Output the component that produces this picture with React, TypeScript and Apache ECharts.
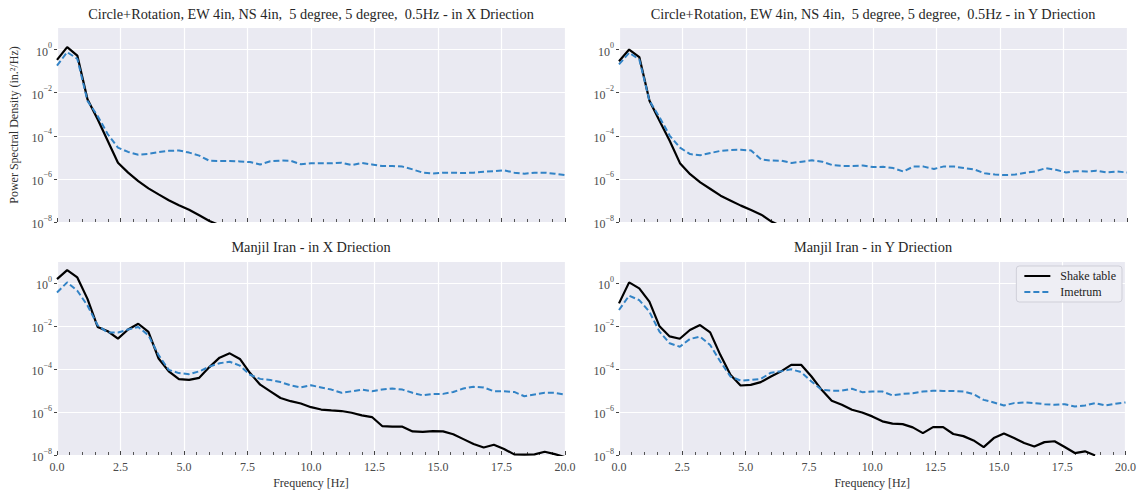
import { useEffect, useRef } from "react";
import * as echarts from "echarts";

// Frequency grid (Hz)
const freqHz = [
  0, 0.4, 0.8, 1.2, 1.6, 2.0, 2.4, 2.8, 3.2, 3.6, 4.0, 4.4, 4.8, 5.2, 5.6, 6.0, 6.4,
  6.8, 7.2, 7.6, 8.0, 8.4, 8.8, 9.2, 9.6, 10.0, 10.4, 10.8, 11.2, 11.6, 12.0, 12.4,
  12.8, 13.2, 13.6, 14.0, 14.4, 14.8, 15.2, 15.6, 16.0, 16.4, 16.8, 17.2, 17.6, 18.0,
  18.4, 18.8, 19.2, 19.6, 20.0,
];

// log10 of Power Spectral Density (in.^2/Hz)
const circleXShake = [
  -0.48, 0.11, -0.28, -2.3, -3.23, -4.24, -5.25, -5.71, -6.1, -6.44, -6.72, -6.99, -7.22, -7.43, -7.69, -7.95, -8.15,
  null, null, null, null, null, null, null, null, null, null, null, null, null, null, null, null, null, null,
  null, null, null, null, null, null, null, null, null, null, null, null, null, null, null, null,
];
const circleXImetrum = [
  -0.75, -0.12, -0.43, -2.38, -3.08, -3.93, -4.55, -4.75, -4.88, -4.84, -4.76, -4.7, -4.68, -4.78, -4.92, -5.16, -5.17,
  -5.17, -5.19, -5.22, -5.33, -5.18, -5.15, -5.16, -5.32, -5.28, -5.27, -5.28, -5.25, -5.36, -5.26, -5.33,
  -5.4, -5.4, -5.43, -5.56, -5.71, -5.75, -5.71, -5.71, -5.73, -5.71, -5.67, -5.64, -5.6, -5.71,
  -5.76, -5.71, -5.71, -5.76, -5.82,
];
const circleYShake = [
  -0.54, 0.0, -0.35, -2.38, -3.31, -4.24, -5.27, -5.78, -6.16, -6.47, -6.78, -7.01, -7.24, -7.44, -7.66, -7.98, -8.2,
  null, null, null, null, null, null, null, null, null, null, null, null, null, null, null, null, null, null,
  null, null, null, null, null, null, null, null, null, null, null, null, null, null, null, null,
];
const circleYImetrum = [
  -0.69, -0.15, -0.46, -2.38, -3.15, -4.0, -4.55, -4.85, -4.9, -4.8, -4.7, -4.66, -4.65, -4.68, -5.1, -5.15, -5.16,
  -5.26, -5.2, -5.14, -5.2, -5.36, -5.4, -5.4, -5.38, -5.45, -5.44, -5.5, -5.66, -5.42, -5.43, -5.54,
  -5.42, -5.43, -5.5, -5.57, -5.74, -5.8, -5.82, -5.8, -5.72, -5.65, -5.5, -5.58, -5.7, -5.64,
  -5.66, -5.62, -5.7, -5.66, -5.7,
];
const manjilXShake = [
  0.2, 0.62, 0.28, -0.72, -2.03, -2.23, -2.57, -2.15, -1.88, -2.26, -3.5, -4.1, -4.46, -4.5, -4.4, -3.9, -3.46,
  -3.26, -3.52, -4.18, -4.72, -5.03, -5.34, -5.49, -5.6, -5.77, -5.88, -5.92, -5.95, -6.03, -6.15, -6.23,
  -6.65, -6.68, -6.68, -6.9, -6.92, -6.89, -6.9, -7.03, -7.26, -7.49, -7.65, -7.52, -7.72, -7.97,
  -7.98, -7.97, -7.85, -7.96, -8.1,
];
const manjilXImetrum = [
  -0.42, 0.05, -0.34, -1.03, -1.95, -2.29, -2.29, -2.15, -2.03, -2.42, -3.34, -4.03, -4.18, -4.23, -4.1, -3.88, -3.72,
  -3.65, -3.83, -4.26, -4.45, -4.5, -4.6, -4.75, -4.85, -4.75, -4.85, -4.95, -5.1, -5.03, -4.95, -5.03,
  -4.95, -4.9, -4.95, -5.1, -5.22, -5.15, -5.15, -5.06, -4.9, -4.82, -4.85, -5.03, -5.03, -5.06,
  -5.26, -5.18, -5.1, -5.1, -5.18,
];
const manjilYShake = [
  -0.93, 0.05, -0.23, -0.85, -2.0, -2.47, -2.58, -2.17, -1.94, -2.28, -3.33, -4.26, -4.76, -4.73, -4.6, -4.34, -4.1,
  -3.8, -3.8, -4.34, -4.96, -5.47, -5.66, -5.89, -6.02, -6.2, -6.43, -6.54, -6.56, -6.71, -6.98, -6.7,
  -6.7, -7.02, -7.12, -7.32, -7.63, -7.21, -7.0, -7.21, -7.44, -7.6, -7.4, -7.36, -7.63, -7.91,
  -7.83, -8.02, null, null, null,
];
const manjilYImetrum = [
  -1.24, -0.57, -0.78, -1.32, -2.25, -2.79, -2.95, -2.59, -2.48, -2.87, -3.64, -4.34, -4.53, -4.5, -4.45, -4.16, -4.1,
  -4.0, -4.14, -4.57, -4.96, -5.0, -5.0, -4.91, -5.07, -5.04, -5.04, -5.22, -5.15, -5.12, -5.04, -5.0,
  -5.01, -5.01, -5.04, -5.16, -5.43, -5.55, -5.69, -5.58, -5.55, -5.58, -5.63, -5.66, -5.63, -5.74,
  -5.69, -5.58, -5.69, -5.61, -5.55,
];

const panelTitles = [
  "Circle+Rotation, EW 4in, NS 4in,  5 degree, 5 degree,  0.5Hz - in X Driection",
  "Circle+Rotation, EW 4in, NS 4in,  5 degree, 5 degree,  0.5Hz - in Y Driection",
  "Manjil Iran - in X Driection",
  "Manjil Iran - in Y Driection",
];
const panelShake = [circleXShake, circleYShake, manjilXShake, manjilYShake];
const panelImetrum = [circleXImetrum, circleYImetrum, manjilXImetrum, manjilYImetrum];
const yTickExponents = [-8, -6, -4, -2, 0];
const seriesNames = ["Shake table", "Imetrum"];

const SERIF = "'Liberation Serif', 'DejaVu Serif', 'Times New Roman', serif";
const BLUE = "#3283c6";
const LABEL = "#4a4a4a";

const layout = [
  { left: 57, top: 28, width: 508, height: 194 },
  { left: 619, top: 28, width: 508, height: 194 },
  { left: 57, top: 262, width: 508, height: 193 },
  { left: 619, top: 262, width: 508, height: 193 },
];

function buildOption() {
  const grids = layout.map((g) => ({
    ...g,
    show: true,
    backgroundColor: "#EAEAF2",
    borderWidth: 0,
    containLabel: false,
  }));
  const xAxes = layout.map((_, i) => ({
    type: "value",
    gridIndex: i,
    min: 0,
    max: 20,
    interval: 2.5,
    axisLine: { show: false, onZero: false },
    axisTick: { show: true, inside: true, length: 4, lineStyle: { color: "#444", width: 1 } },
    minorTick: { show: true, splitNumber: 5, length: 3, lineStyle: { color: "#555", width: 1 } },
    splitLine: { show: true, lineStyle: { color: "#ffffff", width: 1.2 } },
    axisLabel: {
      show: i >= 2,
      formatter: (v: number) => v.toFixed(1),
      color: LABEL,
      fontSize: 12,
      fontFamily: SERIF,
      margin: 6,
    },
    name: i >= 2 ? "Frequency [Hz]" : "",
    nameLocation: "middle",
    nameGap: 22,
    nameTextStyle: { color: "#333", fontSize: 12, fontFamily: SERIF },
  }));
  const yAxes = layout.map((_, i) => ({
    type: "value",
    gridIndex: i,
    min: -8,
    max: 1,
    interval: 2,
    axisLine: { show: false, onZero: false },
    axisTick: { show: true, length: 3, customValues: yTickExponents, lineStyle: { color: "#444" } },
    splitLine: { show: true, lineStyle: { color: "#ffffff", width: 1.2 } },
    axisLabel: {
      customValues: yTickExponents,
      margin: 5,
      color: LABEL,
      formatter: (v: number) => `{b|10}{e|${v < 0 ? "\u2212" : ""}${Math.abs(v)}}`,
      rich: {
        b: { fontSize: 12, fontFamily: SERIF, color: LABEL, lineHeight: 16, verticalAlign: "bottom" },
        e: { fontSize: 8, fontFamily: SERIF, color: LABEL, lineHeight: 16, verticalAlign: "top" },
      },
    },
    name: i === 0 ? "Power Spectral Density (in.\u00b2/Hz)" : "",
    nameLocation: "middle",
    nameGap: 37,
    nameTextStyle: { color: "#333", fontSize: 12, fontFamily: SERIF },
  }));
  const series: any[] = [];
  layout.forEach((_, i) => {
    series.push({
      name: seriesNames[0],
      type: "line",
      xAxisIndex: i,
      yAxisIndex: i,
      symbol: "none",
      showSymbol: false,
      clip: true,
      lineStyle: { color: "#000000", width: 2.2 },
      itemStyle: { color: "#000000" },
      data: freqHz.map((f, j) => [f, panelShake[i][j]]),
    });
    series.push({
      name: seriesNames[1],
      type: "line",
      xAxisIndex: i,
      yAxisIndex: i,
      symbol: "none",
      showSymbol: false,
      clip: true,
      lineStyle: { color: BLUE, width: 2, type: [6, 3] },
      itemStyle: { color: BLUE },
      data: freqHz.map((f, j) => [f, panelImetrum[i][j]]),
    });
  });
  const titles = layout.map((g, i) => ({
    text: panelTitles[i],
    left: g.left + g.width / 2,
    top: i < 2 ? 7 : 240,
    textAlign: "center",
    padding: 0,
    textStyle: { fontSize: 14.3, fontWeight: "normal", color: "#262626", fontFamily: SERIF },
  }));
  return {
    animation: false,
    backgroundColor: "#ffffff",
    title: titles,
    grid: grids,
    xAxis: xAxes,
    yAxis: yAxes,
    legend: {
      data: seriesNames,
      orient: "vertical",
      right: 17,
      top: 266,
      itemWidth: 26,
      itemHeight: 10,
      itemGap: 4,
      padding: [4, 6, 4, 7],
      backgroundColor: "#eeeef4",
      borderColor: "#cfcfd8",
      borderWidth: 1,
      borderRadius: 3,
      itemStyle: { color: "rgba(0,0,0,0)", borderWidth: 0 },
      textStyle: { fontSize: 12, fontFamily: SERIF, color: "#222", padding: [0, 0, 0, 5] },
    },
    series,
  };
}

export default function App() {
  const ref = useRef<HTMLDivElement>(null);
  useEffect(() => {
    document.body.style.margin = "0";
    const chart = echarts.init(ref.current!, null, { renderer: "svg" });
    chart.setOption(buildOption() as any);
    return () => chart.dispose();
  }, []);
  return <div ref={ref} style={{ width: 1139, height: 490 }} />;
}
